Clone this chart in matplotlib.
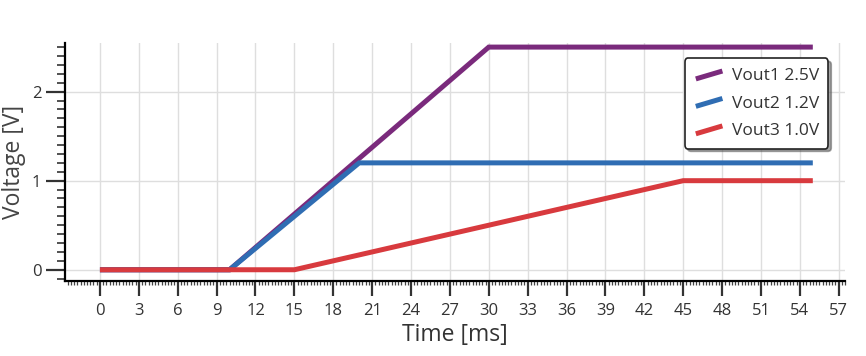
import matplotlib
matplotlib.use("Agg")
import matplotlib.pyplot as plt
from matplotlib.legend_handler import HandlerLine2D
from matplotlib.lines import Line2D
from matplotlib.ticker import MultipleLocator

# data: breakpoints of the three rails (time in ms, voltage in V)
t_vout1 = [0, 10, 30, 55]
v_vout1 = [0, 0, 2.5, 2.5]
t_vout2 = [0, 10, 20, 55]
v_vout2 = [0, 0, 1.2, 1.2]
t_vout3 = [0, 15, 45, 55]
v_vout3 = [0, 0, 1.0, 1.0]
labels = ["Vout1 2.5V", "Vout2 1.2V", "Vout3 1.0V"]
colors = ["#7a2a7c", "#2f6db3", "#d83a3e"]

plt.rcParams['font.family'] = ['Open Sans', 'DejaVu Sans']


class DiagHandler(HandlerLine2D):
    # legend swatch drawn as a short rising stroke
    def create_artists(self, legend, orig_handle, xdescent, ydescent,
                       width, height, fontsize, trans):
        ln = Line2D([0.05 * width, 0.95 * width], [0.1 * height, 0.75 * height],
                    color=orig_handle.get_color(), lw=orig_handle.get_linewidth(),
                    solid_capstyle='butt')
        ln.set_transform(trans)
        return [ln]


fig = plt.figure(figsize=(8.66, 3.56), dpi=100)
ax = fig.add_axes([0.075, 0.211, 0.901, 0.668])

series = [(t_vout1, v_vout1), (t_vout2, v_vout2), (t_vout3, v_vout3)]
handles = []
for (t, v), lab, c in zip(series, labels, colors):
    h, = ax.plot(t, v, color=c, lw=3.6, label=lab, solid_capstyle='butt',
                 solid_joinstyle='miter')
    handles.append(h)

ax.set_xlim(-2.7, 57.5)
ax.set_ylim(-0.125, 2.545)

ax.xaxis.set_major_locator(MultipleLocator(3))
ax.xaxis.set_minor_locator(MultipleLocator(0.25))
ax.yaxis.set_major_locator(MultipleLocator(1))
ax.yaxis.set_minor_locator(MultipleLocator(0.1))

ax.grid(True, which='major', color='#dedede', lw=1)
ax.set_axisbelow(True)

for s in ['top', 'right']:
    ax.spines[s].set_visible(False)
ax.spines['left'].set_linewidth(1.6)
ax.spines['bottom'].set_linewidth(1.6)

ax.tick_params(axis='both', which='major', direction='out',
               width=1.6, color='#333333', labelsize=12, labelcolor='#333333')
ax.tick_params(axis='x', which='major', length=11, pad=5)
ax.tick_params(axis='y', which='major', length=14, pad=3)
ax.tick_params(axis='x', which='minor', direction='out', length=3, width=0.9,
               color='#444444')
ax.tick_params(axis='y', which='minor', direction='out', length=6, width=1.2,
               color='#333333')

ax.set_xlabel("Time [ms]", fontsize=16.5, color='#333333', labelpad=3)
ax.set_ylabel("Voltage [V]", fontsize=16.5, color='#444444', labelpad=4)

leg = ax.legend(handles=handles, loc='upper right',
                bbox_to_anchor=(0.983, 0.95), fontsize=12.5,
                handler_map={Line2D: DiagHandler()}, handlelength=1.7,
                handletextpad=0.45, labelspacing=0.65, borderpad=0.55,
                borderaxespad=0.2,
                fancybox=True, shadow=True, framealpha=1,
                edgecolor='#222222', labelcolor='#333333')
leg.get_frame().set_linewidth(1.2)

fig.savefig("out.png", dpi=100)
